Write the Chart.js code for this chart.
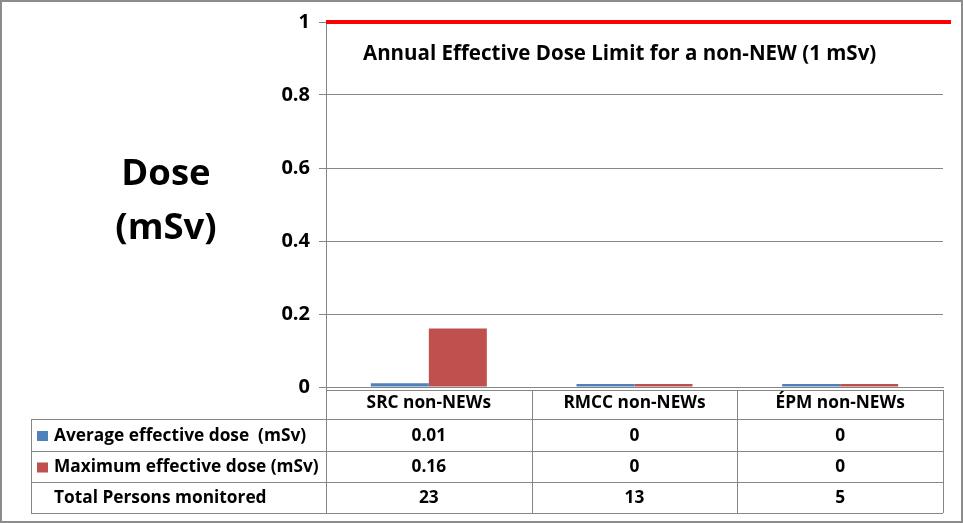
<!DOCTYPE html>
<html>
<head>
<meta charset="utf-8">
<script src="https://cdn.jsdelivr.net/npm/chart.js@4"></script>
<style>
  html, body { margin: 0; padding: 0; background: #fff; }
  #wrap { width: 963px; height: 523px; position: relative; }
</style>
</head>
<body>
<div id="wrap"><canvas id="doseChart" width="963" height="523"></canvas></div>
<script>
// Chart data
const categories = ['SRC non-NEWs', 'RMCC non-NEWs', 'ÉPM non-NEWs'];
const averageDose = [0.01, 0, 0];
const maximumDose = [0.16, 0, 0];
const personsMonitored = [23, 13, 5];
const seriesNames = ['Average effective dose  (mSv)', 'Maximum effective dose (mSv)'];
const rowTotalName = 'Total Persons monitored';
const limitValue = 1;
const limitText = 'Annual Effective Dose Limit for a non-NEW (1 mSv)';
const yTitle = ['Dose', '(mSv)'];

const FONT = '"Open Sans", Lato, sans-serif';
const BLUE = '#4f81bd';
const RED = '#c0504d';
const LINE = '#868686';

// draws the limit line, y title, annotation and the data table
const extrasPlugin = {
    id: 'extras',
    afterDraw(chart) {
        const ctx = chart.ctx;
        const xs = chart.scales.x;
        const ys = chart.scales.y;
        const area = chart.chartArea;
        ctx.save();

        // limit line
        const yl = ys.getPixelForValue(limitValue);
        ctx.strokeStyle = '#ff0000';
        ctx.lineWidth = 4;
        ctx.beginPath();
        ctx.moveTo(area.left, yl);
        ctx.lineTo(area.right + 8, yl);
        ctx.stroke();

        ctx.fillStyle = '#000';
        ctx.font = 'bold 20.5px ' + FONT;
        ctx.textAlign = 'left';
        ctx.textBaseline = 'middle';
        ctx.fillText(limitText, 363, 54);

        // y axis title
        ctx.font = 'bold 36.5px ' + FONT;
        ctx.textAlign = 'center';
        ctx.fillText(yTitle[0], 166, 175);
        ctx.fillText(yTitle[1], 166, 229);

        // data table
        const colW = (area.right - area.left) / categories.length;
        const tableLeft = 31;
        const rows = [419, 451, 482, 513];
        ctx.strokeStyle = LINE;
        ctx.lineWidth = 1;
        ctx.beginPath();
        ctx.moveTo(area.left, 390.5);
        ctx.lineTo(area.right, 390.5);
        rows.forEach(r => {
            ctx.moveTo(tableLeft, r + 0.5);
            ctx.lineTo(area.right, r + 0.5);
        });
        ctx.moveTo(tableLeft + 0.5, rows[0]);
        ctx.lineTo(tableLeft + 0.5, rows[3]);
        for (let i = 0; i <= categories.length; i++) {
            const x = Math.round(area.left + i * colW) + 0.5;
            ctx.moveTo(x, i === 0 ? area.bottom : 390);
            ctx.lineTo(x, rows[3]);
        }
        ctx.stroke();

        const rowData = [averageDose, maximumDose, personsMonitored];
        const rowNames = [seriesNames[0], seriesNames[1], rowTotalName];
        const swatches = [BLUE, RED, null];
        ctx.font = 'bold 17.3px ' + FONT;
        ctx.textBaseline = 'middle';
        rowData.forEach((vals, r) => {
            const cy = (rows[r] + rows[r + 1]) / 2 + 1;
            if (swatches[r]) {
                ctx.fillStyle = swatches[r];
                ctx.fillRect(37, cy - 5, 11, 10);
            }
            ctx.fillStyle = '#000';
            ctx.textAlign = 'left';
            ctx.fillText(rowNames[r], 54, cy);
            ctx.textAlign = 'center';
            vals.forEach((v, i) => {
                ctx.fillText(String(v), xs.getPixelForValue(i), cy);
            });
        });

        // outer frame
        ctx.strokeStyle = '#8c8c8c';
        ctx.lineWidth = 2;
        ctx.strokeRect(1, 1, 961, 521);
        ctx.restore();
    }
};

const ctx = document.getElementById('doseChart').getContext('2d');
const doseChart = new Chart(ctx, {
    type: 'bar',
    data: {
        labels: categories,
        datasets: [
            {
                label: seriesNames[0],
                data: averageDose,
                backgroundColor: BLUE,
                borderWidth: 0,
                minBarLength: 3
            },
            {
                label: seriesNames[1],
                data: maximumDose,
                backgroundColor: RED,
                borderWidth: 0,
                minBarLength: 3
            }
        ]
    },
    options: {
        responsive: false,
        animation: false,
        devicePixelRatio: 1,
        datasets: {
            bar: { categoryPercentage: 0.564, barPercentage: 1 }
        },
        layout: { padding: { top: 22, right: 20, left: 0, bottom: 0 } },
        scales: {
            x: {
                grid: { display: false, drawTicks: false },
                border: { display: true, color: LINE },
                ticks: {
                    color: '#000',
                    font: { family: FONT, size: 17.3, weight: 'bold' },
                    padding: 6,
                    maxRotation: 0
                },
                afterFit(scale) { scale.height = 136; }
            },
            y: {
                min: 0,
                max: 1,
                ticks: {
                    stepSize: 0.2,
                    color: '#000',
                    font: { family: FONT, size: 20, weight: 'bold' },
                    padding: 9,
                    callback: v => +v.toFixed(2)
                },
                grid: { color: LINE, tickLength: 7 },
                border: { display: true, color: LINE },
                afterFit(scale) { scale.width = 326; }
            }
        },
        plugins: {
            legend: { display: false },
            tooltip: { enabled: false }
        }
    },
    plugins: [extrasPlugin]
});
</script>
</body>
</html>
